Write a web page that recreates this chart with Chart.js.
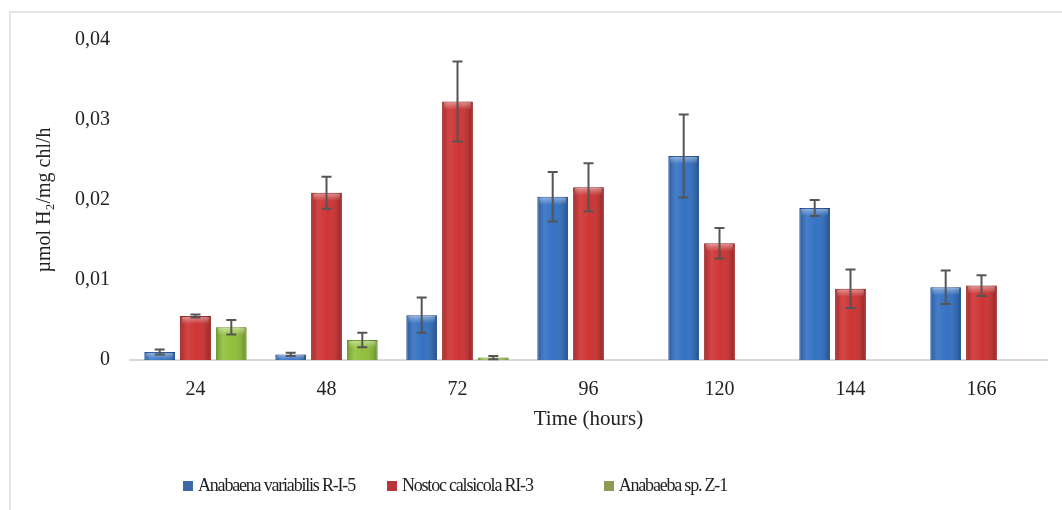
<!DOCTYPE html>
<html>
<head>
<meta charset="utf-8">
<script src="https://cdn.jsdelivr.net/npm/chart.js@4.4.1/dist/chart.umd.min.js"></script>
<style>
	html, body { margin:0; padding:0; background:#fff; }
	#wrap { position:relative; width:1062px; height:510px; }
	#frame { position:absolute; left:9px; top:11px; right:0; bottom:0; border-top:2px solid #e4e4e4; border-left:2px solid #e4e4e4; }
	#legend { position:absolute; left:183px; top:475px; display:flex; font-family:'Liberation Serif', serif; font-size:18px; letter-spacing:-1.2px; color:#222; }
	#legend span.item { display:flex; align-items:center; }
	#legend span.box { display:inline-block; width:10px; height:10px; margin-right:5px; }
</style>
</head>
<body>
<div id="wrap">
	<div id="frame"></div>
	<canvas id="chart1" width="1062" height="510"></canvas>
	<div id="legend"></div>
</div>
<script>
const categories = ['24', '48', '72', '96', '120', '144', '166'];
const seriesNames = ['Anabaena variabilis R-I-5', 'Nostoc calsicola RI-3', 'Anabaeba sp. Z-1'];
// values (µmol H2/mg chl/h)
const anabaenaValues = [0.0010, 0.0007, 0.0056, 0.0204, 0.0255, 0.0190, 0.0091];
const anabaenaErrors = [0.0003, 0.0002, 0.0022, 0.0031, 0.0052, 0.0010, 0.0021];
const nostocValues   = [0.0055, 0.0209, 0.0323, 0.0216, 0.0146, 0.0089, 0.0093];
const nostocErrors   = [0.0002, 0.0020, 0.0050, 0.0030, 0.0019, 0.0024, 0.0013];
const anabaebaValues = [0.0041, 0.0025, 0.0003, null, null, null, null];
const anabaebaErrors = [0.0009, 0.0009, 0.0002, null, null, null, null];
const yTicks = [0, 0.01, 0.02, 0.03, 0.04];

const barColors    = ['rgb(44,108,192)', 'rgb(204,44,44)', 'rgb(140,190,52)'];
const borderColors = ['rgb(30,78,150)', 'rgb(150,28,28)', 'rgb(100,145,35)'];
const legendColors = ['rgb(60,104,170)', 'rgb(184,54,58)', 'rgb(140,154,84)'];
const errorData = [anabaenaErrors, nostocErrors, anabaebaErrors];

// shading + error bars drawn on top of the bars
const barExtras = {
	id: 'barExtras',
	afterDatasetsDraw(chart) {
		const ctx = chart.ctx;
		const yScale = chart.scales.y;
		chart.data.datasets.forEach(function(ds, di) {
			const meta = chart.getDatasetMeta(di);
			meta.data.forEach(function(bar, i) {
				const v = ds.data[i];
				if(v == null) return;
				const p = bar.getProps(['x', 'y', 'base', 'width'], true);
				const l = p.x - p.width / 2, r = p.x + p.width / 2;
				// horizontal gloss
				const g = ctx.createLinearGradient(l, 0, r, 0);
				g.addColorStop(0, 'rgba(0,0,0,0.22)');
				g.addColorStop(0.25, 'rgba(255,255,255,0.12)');
				g.addColorStop(0.55, 'rgba(255,255,255,0.04)');
				g.addColorStop(1, 'rgba(0,0,0,0.28)');
				ctx.save();
				ctx.fillStyle = g;
				ctx.fillRect(l + 1, p.y, p.width - 2, p.base - p.y);
				// light cap on top
				const h = Math.min(8, p.base - p.y);
				const g2 = ctx.createLinearGradient(0, p.y, 0, p.y + h);
				g2.addColorStop(0, 'rgba(255,255,255,0.45)');
				g2.addColorStop(1, 'rgba(255,255,255,0)');
				ctx.fillStyle = g2;
				ctx.fillRect(l + 2, p.y + 1, p.width - 4, h);
				ctx.restore();

				const e = errorData[di][i];
				if(e == null) return;
				const yTop = yScale.getPixelForValue(v + e);
				const yBot = yScale.getPixelForValue(Math.max(0, v - e));
				ctx.save();
				ctx.strokeStyle = '#555';
				ctx.lineWidth = 2;
				ctx.beginPath();
				ctx.moveTo(p.x, yTop); ctx.lineTo(p.x, yBot);
				ctx.moveTo(p.x - 5, yTop); ctx.lineTo(p.x + 5, yTop);
				ctx.moveTo(p.x - 5, yBot); ctx.lineTo(p.x + 5, yBot);
				ctx.stroke();
				ctx.restore();
			});
		});
	}
};

function draw() {
	const serif = "'Liberation Serif', 'Times New Roman', serif";
	new Chart('chart1', {
		type: 'bar',
		data: {
			labels: categories,
			datasets: [
			{
				label: seriesNames[0],
				data: anabaenaValues,
				backgroundColor: barColors[0],
				borderColor: borderColors[0],
				borderWidth: 1
			},
			{
				label: seriesNames[1],
				data: nostocValues,
				backgroundColor: barColors[1],
				borderColor: borderColors[1],
				borderWidth: 1
			},
			{
				label: seriesNames[2],
				data: anabaebaValues,
				backgroundColor: barColors[2],
				borderColor: borderColors[2],
				borderWidth: 1
			}]
		},
		options: {
			responsive: false,
			animation: false,
			categoryPercentage: 0.82,
			barPercentage: 0.86,
			layout: {
				padding: { left: 0, top: 40, right: 15, bottom: 70 }
			},
			scales: {
				x: {
					grid: { display: false, drawTicks: false },
					border: { display: true, color: '#d9d9d9', width: 2 },
					ticks: { color: '#222', padding: 18, font: { family: serif, size: 20 } },
					title: { display: true, text: 'Time (hours)', color: '#222', padding: { top: 0, bottom: 8 }, font: { family: serif, size: 21 } },
					afterFit: function(scale) { scale.height = 80; }
				},
				y: {
					min: 0,
					max: 0.04,
					grid: { display: false, drawTicks: false },
					border: { display: false },
					afterBuildTicks: function(scale) {
						scale.ticks = yTicks.map(function(v) { return { value: v }; });
					},
					ticks: {
						color: '#222',
						padding: 20,
						font: { family: serif, size: 20 },
						callback: function(value) {
							if(value == 0) return '0';
							return value.toFixed(2).replace('.', ',');
						}
					},
					title: { display: true, text: 'µmol H₂/mg chl/h', color: '#222', padding: { top: 33, bottom: 0 }, font: { family: serif, size: 20 } },
					afterFit: function(scale) { scale.width = 130; }
				}
			},
			plugins: {
				legend: { display: false },
				tooltip: { enabled: false }
			}
		},
		plugins: [barExtras]
	});

	// legend below the chart
	const legend = document.getElementById('legend');
	const gaps = [0, 32, 71];
	seriesNames.forEach(function(name, i) {
		const item = document.createElement('span');
		item.className = 'item';
		item.style.marginLeft = gaps[i] + 'px';
		const box = document.createElement('span');
		box.className = 'box';
		box.style.background = legendColors[i];
		item.appendChild(box);
		item.appendChild(document.createTextNode(name));
		legend.appendChild(item);
	});
}
draw();
</script>
</body>
</html>
